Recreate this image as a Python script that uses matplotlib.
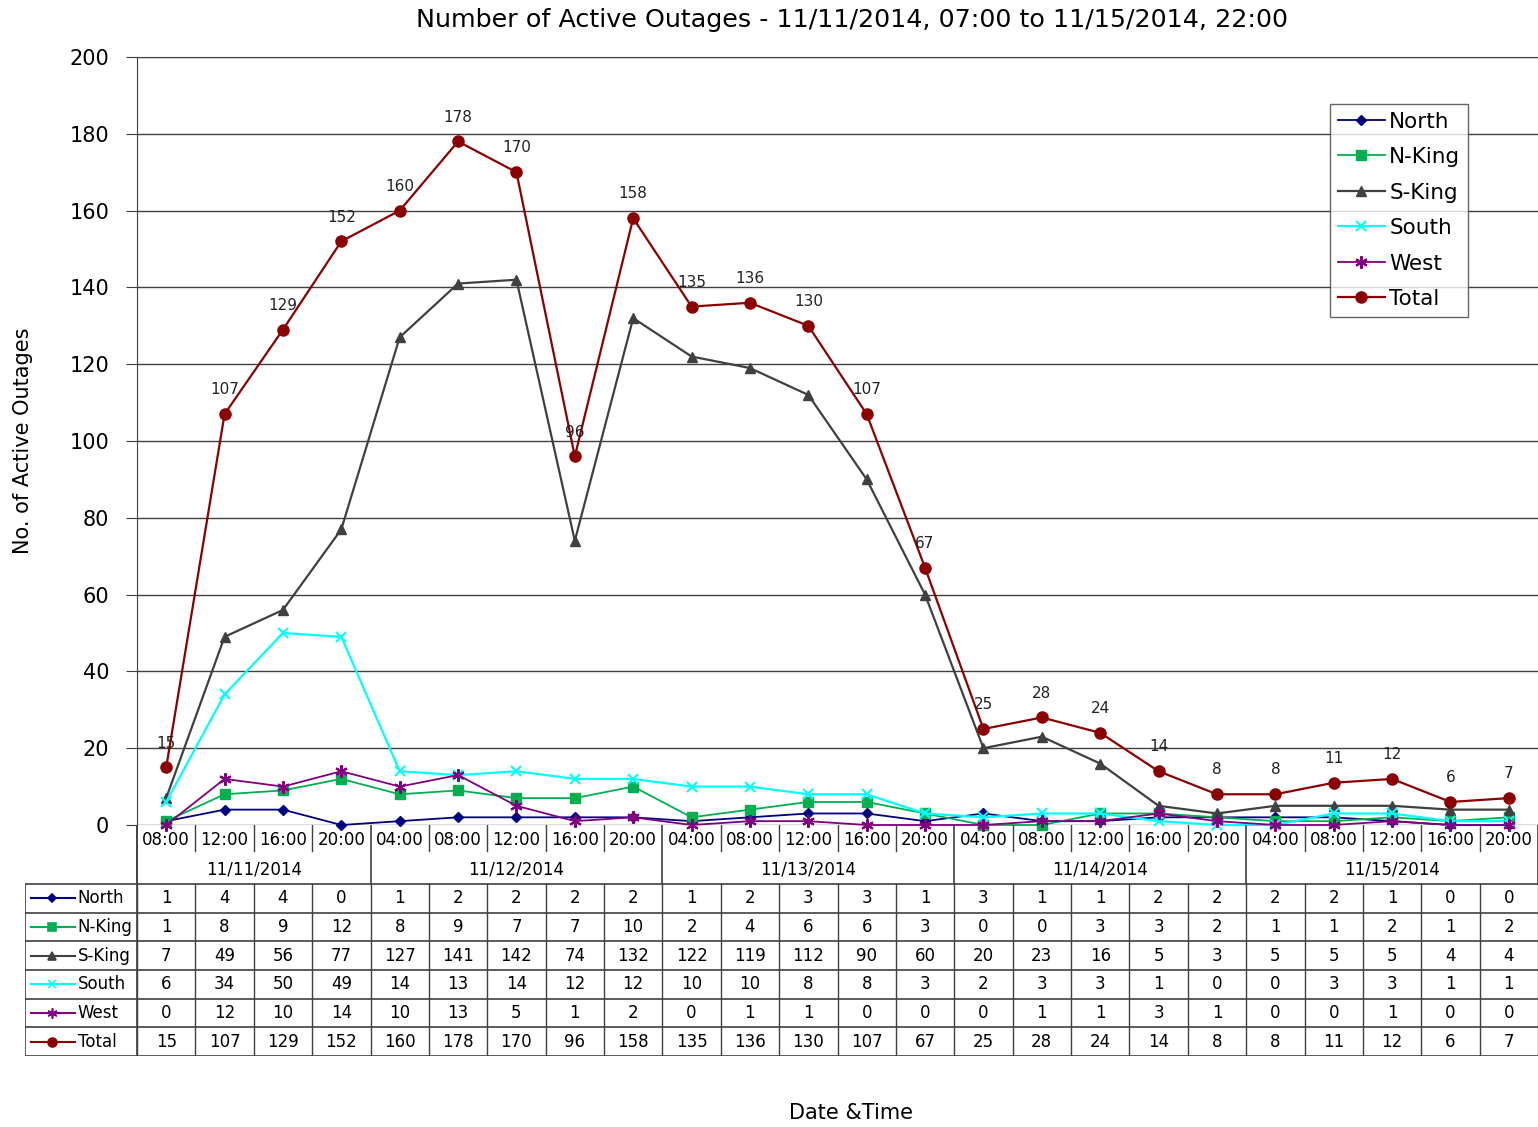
import matplotlib
matplotlib.use("Agg")

import matplotlib.pyplot as plt
import numpy as np

horas = ["08:00", "12:00", "16:00", "20:00",
         "04:00", "08:00", "12:00", "16:00", "20:00",
         "04:00", "08:00", "12:00", "16:00", "20:00",
         "04:00", "08:00", "12:00", "16:00", "20:00",
         "04:00", "08:00", "12:00", "16:00", "20:00"]
fechas = ["11/11/2014", "11/12/2014", "11/13/2014", "11/14/2014", "11/15/2014"]
n_por_dia = [4, 5, 5, 5, 5]

north = [1, 4, 4, 0, 1, 2, 2, 2, 2, 1, 2, 3, 3, 1, 3, 1, 1, 2, 2, 2, 2, 1, 0, 0]
nking = [1, 8, 9, 12, 8, 9, 7, 7, 10, 2, 4, 6, 6, 3, 0, 0, 3, 3, 2, 1, 1, 2, 1, 2]
sking = [7, 49, 56, 77, 127, 141, 142, 74, 132, 122, 119, 112, 90, 60, 20, 23, 16, 5, 3, 5, 5, 5, 4, 4]
south = [6, 34, 50, 49, 14, 13, 14, 12, 12, 10, 10, 8, 8, 3, 2, 3, 3, 1, 0, 0, 3, 3, 1, 1]
west = [0, 12, 10, 14, 10, 13, 5, 1, 2, 0, 1, 1, 0, 0, 0, 1, 1, 3, 1, 0, 0, 1, 0, 0]
total = [15, 107, 129, 152, 160, 178, 170, 96, 158, 135, 136, 130, 107, 67, 25, 28, 24, 14, 8, 8, 11, 12, 6, 7]

series = [
    ("North", north, "#000080", "D", 5),
    ("N-King", nking, "#00B050", "s", 7),
    ("S-King", sking, "#404040", "^", 7),
    ("South", south, "#00FFFF", "x", 7),
    ("West", west, "#800080", (6, 2, 0), 9),
    ("Total", total, "#8B0000", "o", 8),
]

W, H = 1538, 1127
fig = plt.figure(figsize=(W / 100, H / 100), dpi=100)
plt.rcParams["font.family"] = ["DejaVu Sans"]

n = len(horas)
x = np.arange(n)
cat_w = (W - 137) / n

# --- grafico principal ---
ax = fig.add_axes([137 / W, (H - 825) / H, (W - 137) / W, 768 / H])
for nombre, vals, color, mk, ms in series:
    lw = 1.6 if nombre in ("Total", "S-King", "South") else 1.3
    ax.plot(x, vals, color=color, marker=mk, markersize=ms, lw=lw,
            markeredgewidth=1.5 if mk in ("x", (6, 2, 0)) else 1,
            label=nombre, zorder=3, clip_on=False)

for xi, v in zip(x, total):
    ax.annotate(str(v), xy=(xi, v), xytext=(0, 17.5), textcoords="offset points",
                ha="center", va="center", fontsize=11, color="#222222")

ax.set_xlim(-0.5, n - 0.5)
ax.set_ylim(0, 200)
ax.set_yticks(range(0, 201, 20))
ax.tick_params(axis="y", labelsize=15, length=8, pad=12, color="#404040")
ax.set_xticks([])
ax.grid(axis="y", color="#404040", lw=1)
ax.set_axisbelow(True)
for s in ["right", "bottom"]:
    ax.spines[s].set_visible(False)
ax.spines["top"].set_color("#404040")
ax.spines["left"].set_color("#404040")
ax.set_ylabel("No. of Active Outages", fontsize=15, labelpad=26)

leg = ax.legend(loc="upper left", bbox_to_anchor=((1330 - 137) / (W - 137), 1 - 47 / 768),
                borderaxespad=0, fontsize=15.5, frameon=True, fancybox=False,
                edgecolor="#404040", handlelength=2.2, handletextpad=0.2,
                borderpad=0.35, labelspacing=0.72)
leg.get_frame().set_linewidth(1)

fig.text(852 / W, 1 - 20 / H,
         "Number of Active Outages - 11/11/2014, 07:00 to 11/15/2014, 22:00",
         ha="center", va="center", fontsize=18.3)

# --- tabla de datos debajo ---
tx0 = -0.5 - (137 - 25) / cat_w
tab = fig.add_axes([25 / W, (H - 1056) / H, (W - 25) / W, 231 / H])
tab.set_xlim(tx0, n - 0.5)
tab.set_ylim(231, 0)
tab.axis("off")

lc = "#404040"
row_top = 59
row_h = (231 - row_top) / 6

# fila de horas
for xi, h in zip(x, horas):
    tab.text(xi, 15, h, ha="center", va="center", fontsize=12)
limites = np.cumsum([0] + n_por_dia)
for k in range(1, n):
    if k in limites:
        continue
    tab.plot([k - 0.5, k - 0.5], [0, 26], color=lc, lw=1)
# separadores de dia
for b in limites:
    tab.plot([b - 0.5, b - 0.5], [0, row_top], color=lc, lw=1.2)
for i, f in enumerate(fechas):
    tab.text((limites[i] + limites[i + 1] - 1) / 2, 44, f, ha="center", va="center", fontsize=12)

# filas de datos
for r, (nombre, vals, color, mk, ms) in enumerate(series):
    yc = row_top + (r + 0.5) * row_h
    tab.plot([tx0 + 0.1, tx0 + 0.85], [yc, yc], color=color, lw=1.5)
    tab.plot([tx0 + 0.47], [yc], color=color, marker=mk, markersize=ms * 0.8,
             markeredgewidth=1.2)
    tab.text(tx0 + 0.9, yc, nombre, ha="left", va="center", fontsize=12)
    for xi, v in zip(x, vals):
        tab.text(xi, yc, str(v), ha="center", va="center", fontsize=12)

for r in range(7):
    yy = row_top + r * row_h
    tab.plot([tx0, n - 0.5], [yy, yy], color=lc, lw=1.2)
for k in range(n + 1):
    tab.plot([k - 0.5, k - 0.5], [row_top, 231], color=lc, lw=1)
tab.plot([tx0, tx0], [row_top, 231], color=lc, lw=1.2)
tab.plot([-0.5, -0.5], [0, 231], color=lc, lw=1.2)

fig.text(851 / W, 1 - 1113 / H, "Date &Time", ha="center", va="center", fontsize=15)

fig.savefig("out.png", dpi=100)
